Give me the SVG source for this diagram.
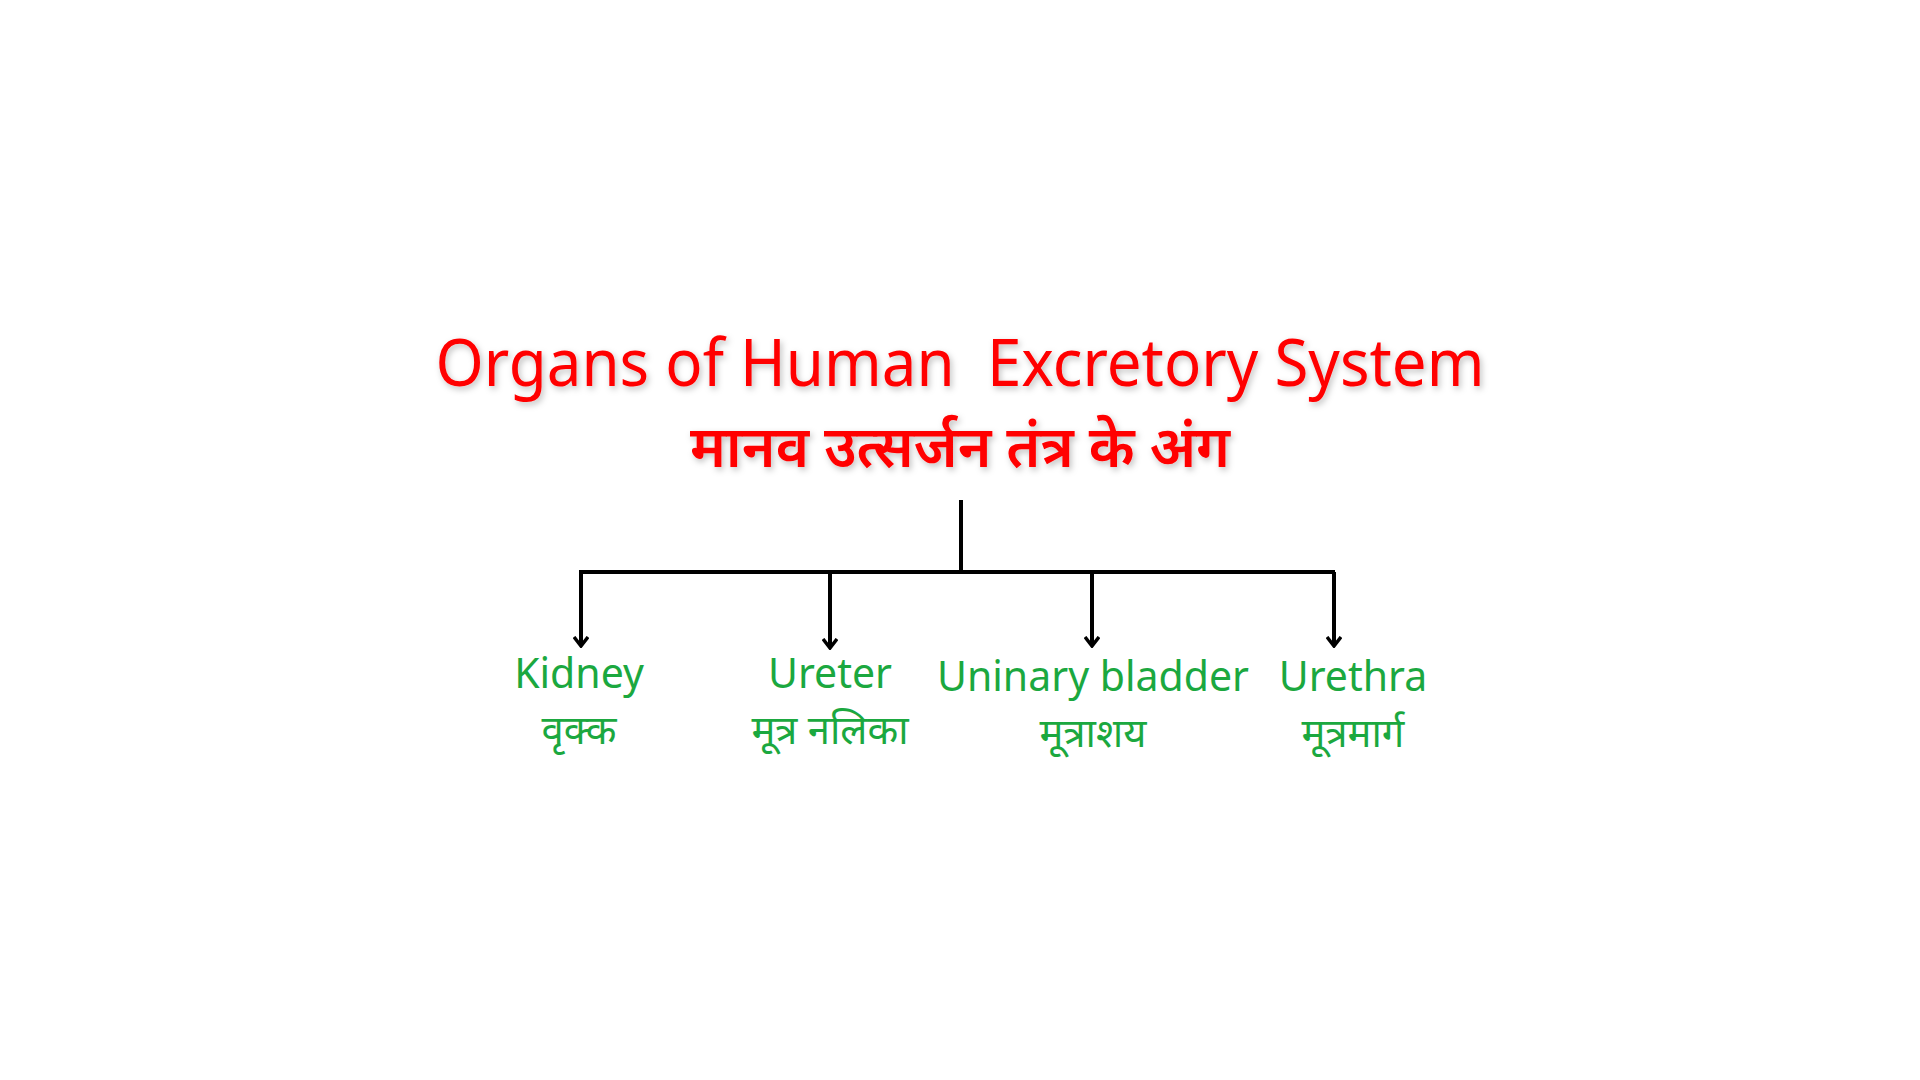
<svg xmlns="http://www.w3.org/2000/svg" width="1920" height="1080" viewBox="0 0 1920 1080">
<style>
.title{font-family:"Noto Sans","Open Sans",sans-serif;fill:#ff0000;text-anchor:middle;white-space:pre}
.hi{font-family:"Noto Sans","Noto Sans Devanagari",sans-serif}
.lbl{font-family:"Noto Sans","Open Sans",sans-serif;fill:#1ba83f;text-anchor:middle}
.conn{stroke:#000;stroke-width:4;fill:none}
</style>
<defs>
<filter id="sh" x="-5%" y="-20%" width="110%" height="140%">
<feDropShadow dx="2" dy="3" stdDeviation="3" flood-color="#000" flood-opacity="0.25"/>
</filter>
<marker id="ah" viewBox="0 0 12 16" refX="10" refY="8" markerWidth="12" markerHeight="16" markerUnits="userSpaceOnUse" orient="auto">
<path d="M1,1 L10,8 L1,15" fill="none" stroke="#000" stroke-width="3.5"/>
</marker>
</defs>
<rect width="1920" height="1080" fill="#fff"/>
<g id="title" filter="url(#sh)">
<text class="title" x="960" y="386" font-size="66" textLength="1049" lengthAdjust="spacingAndGlyphs" xml:space="preserve">Organs of Human  Excretory System</text>
<text class="title hi" x="960" y="467" font-size="57" font-weight="600">मानव उत्सर्जन तंत्र के अंग</text>
</g>
<g id="connectors">
<line class="conn" x1="961" y1="500" x2="961" y2="572"/>
<line class="conn" x1="579" y1="572" x2="1335" y2="572"/>
<line class="conn" x1="581" y1="572" x2="581" y2="646" marker-end="url(#ah)"/>
<line class="conn" x1="830" y1="572" x2="830" y2="648" marker-end="url(#ah)"/>
<line class="conn" x1="1092" y1="572" x2="1092" y2="646" marker-end="url(#ah)"/>
<line class="conn" x1="1334" y1="572" x2="1334" y2="646" marker-end="url(#ah)"/>
</g>
<g id="kidney">
<text class="lbl" x="579" y="688" font-size="41">Kidney</text>
<text class="lbl hi" x="579" y="744" font-size="40">वृक्क</text>
</g>
<g id="ureter">
<text class="lbl" x="830" y="688" font-size="41">Ureter</text>
<text class="lbl hi" x="830" y="744" font-size="40">मूत्र नलिका</text>
</g>
<g id="bladder">
<text class="lbl" x="1093" y="691" font-size="41">Uninary bladder</text>
<text class="lbl hi" x="1093" y="747" font-size="40">मूत्राशय</text>
</g>
<g id="urethra">
<text class="lbl" x="1353" y="691" font-size="41">Urethra</text>
<text class="lbl hi" x="1353" y="747" font-size="40">मूत्रमार्ग</text>
</g>
</svg>
